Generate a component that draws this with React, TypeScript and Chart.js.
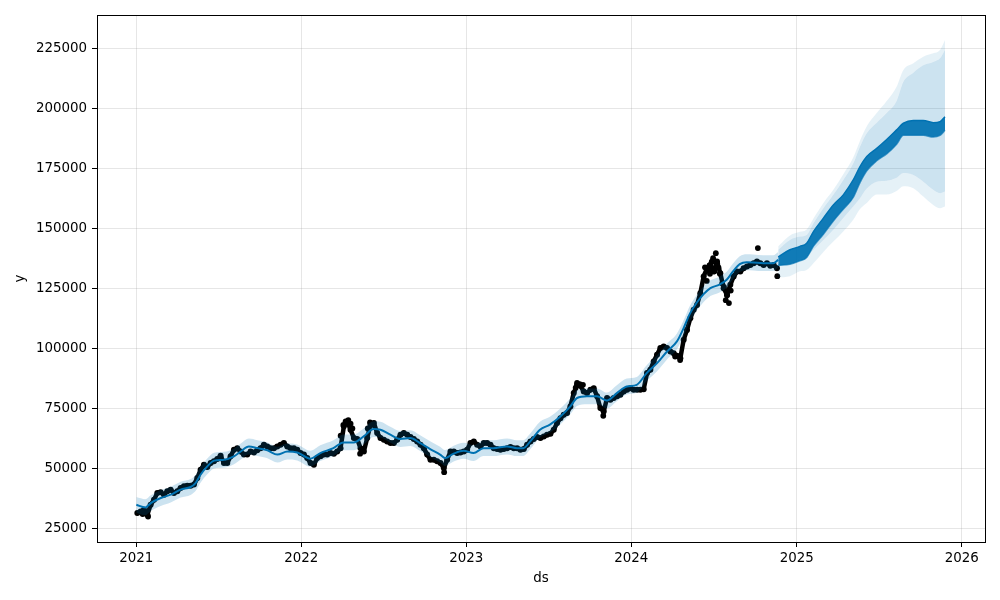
import React, { useEffect, useRef } from "react";
import { Chart, registerables } from "chart.js";

Chart.register(...registerables);

// ---- axes ----
const X_TICK_DAYS = [0, 365, 730, 1095, 1461, 1826]; // days since 2021-01-01
const X_TICK_LABELS = ["2021", "2022", "2023", "2024", "2025", "2026"];
const Y_TICKS = [25000, 50000, 75000, 100000, 125000, 150000, 175000, 200000, 225000];
const X_MIN = -87;
const X_MAX = 1877.5;
const Y_MIN = 19170;
const Y_MAX = 238880;

// ---- observed data points (sampled every OBS_STEP_DAYS) ----
const OBS_FIRST_DAY = 2.2;
const OBS_STEP_DAYS = 7.37;
const OBS_VALUES = [
  31250, 31900, 32600, 30500, 34700, 36800, 39600, 39900, 38900, 40300,
  41000, 39600, 40300, 41700, 42400, 42600, 42600, 43100, 45800, 49300,
  51400, 50400, 52100, 52800, 53750, 55100, 52100, 52100, 54900, 57600,
  58300, 56900, 55600, 55600, 56900, 56500, 57400, 58300, 59700, 59000,
  58300, 58300, 59000, 59700, 60400, 59000, 58300, 58300, 57600, 56250,
  55600, 54200, 52100, 51400, 54200, 54900, 55600, 55600, 56250, 56000,
  56900,
  58300, 67400, 69400, 66000, 62500, 62100, 58300, 56900, 62500, 68100,
  68750, 64600, 62500, 61800, 61100, 60400, 60400, 61800, 63900, 64600,
  63900, 62900, 62100, 61100, 59700, 58300, 55600, 53500, 53500, 52800,
  52100, 50000, 53500, 56900, 56900, 56250, 56500, 56900, 57600, 60400,
  61100, 59700, 59000, 60400, 60400, 59700, 58300, 57900, 57600, 57900,
  58300, 58750, 58300, 58300, 57600, 57900, 59700, 61100, 62100, 62900,
  62500, 63200, 63900, 64300, 66000, 68750, 70800, 72200, 72900, 75700,
  81250, 84700, 84300, 81900, 81250, 82600, 83300, 79900, 75000, 73600,
  79200, 78500, 79200, 79900, 80600, 81900, 82600, 83300, 82600, 82600,
  82600, 82900, 89600, 91000, 94400, 97200, 100000, 100700, 100000, 98600,
  97900, 96800, 95800, 103500, 107600, 112500, 116000, 118000, 122900, 129900,
  133300, 134700, 131900, 136100,
  131250, 125000, 122200, 126400, 129900, 131900, 131900, 133300, 134000, 134700,
  135400, 136100, 135400, 134700, 135400, 134300, 134700, 133300,
];
const OBS_EXTRA_DAYS = [
  14, 26, 452, 458, 463, 469, 474, 478, 495, 512, 517, 522, 681, 972, 975, 981, 988,
  1033, 1192, 1203, 1258, 1262, 1265, 1268, 1269, 1273, 1276, 1279, 1282, 1285, 1288,
  1291, 1296, 1300, 1304, 1307, 1311, 1315, 1375, 1418,
];
const OBS_EXTRA_VALUES = [
  30800, 29800, 63500, 68000, 69500, 70000, 68500, 66500, 56000, 66500, 69000, 68000, 48300, 83500, 85500, 85000, 84700,
  71800, 96500, 95000, 133700, 128000, 132500, 134500, 131000, 136000, 137500, 132000, 139600, 135400, 133500,
  131000, 127000, 125500, 120000, 122000, 118800, 124000, 141700, 130000,
];

// ---- fitted history ----
const HIST_DAYS = [
  0, 20, 32, 54, 76, 98, 120, 131, 142, 157,
  172, 194, 216, 231, 249, 268, 290, 312, 334, 356,
  385, 407, 436, 458, 481, 503, 525, 540, 562, 584,
  606, 628, 650, 672, 683, 702, 724, 746, 768, 790,
  820, 842, 856, 871, 893, 915, 938, 960, 975, 997,
  1019, 1041, 1063, 1085, 1107, 1129, 1152, 1174, 1196, 1210,
  1225, 1240, 1255, 1270, 1290, 1306, 1320, 1335, 1350, 1365,
  1387, 1409, 1420,
];
const HIST_YHAT = [
  34700, 33600, 35400, 37500, 38900, 41000, 42100, 43750, 47200, 50700,
  53100, 53500, 54900, 56900, 59000, 58300, 57400, 55600, 56900, 56500,
  53900, 56250, 58300, 60700, 60700, 63200, 66250, 66000, 63900, 62100,
  62500, 60400, 57900, 55600, 54200, 56000, 57200, 56250, 58300, 58300,
  59000, 58300, 58300, 61000, 66000, 68100, 71500, 75700, 79200, 79900,
  79900, 78200, 81250, 84000, 84700, 89600, 93750, 98600, 102800, 108000,
  114500, 119000, 122500, 125000, 126500, 128500, 132000, 135000, 135800, 135700,
  135400, 135400, 136800,
];
const HIST_UPPER = [
  37900, 37000, 38700, 40800, 42200, 44300, 45400, 47000, 50500, 54000,
  56400, 56800, 58200, 60200, 62300, 61600, 60700, 58900, 60200, 59800,
  57200, 59500, 61600, 64000, 64000, 66500, 69500, 69300, 67200, 65400,
  65800, 63700, 61200, 58900, 57500, 59300, 60500, 59500, 61600, 61600,
  62300, 61600, 61600, 64300, 69300, 71400, 74800, 79000, 82500, 83200,
  83200, 81500, 84500, 87300, 88000, 92900, 97000, 101900, 106100, 111300,
  117800, 122300, 125800, 128300, 129800, 131800, 135300, 138300, 139100, 139000,
  138700, 138700, 140100,
];
const HIST_LOWER = [
  31400, 30300, 32100, 34200, 35600, 37700, 38800, 40400, 43900, 47400,
  49800, 50200, 51600, 53600, 55700, 55000, 54100, 52300, 53600, 53200,
  50600, 52900, 55000, 57400, 57400, 59900, 62900, 62700, 60600, 58800,
  59200, 57100, 54600, 52300, 50900, 52700, 53900, 52900, 55000, 55000,
  55700, 55000, 55000, 57700, 62700, 64800, 68200, 72400, 75900, 76600,
  76600, 74900, 77900, 80700, 81400, 86300, 90400, 95300, 99500, 104700,
  111200, 115700, 119200, 121700, 123200, 125200, 128700, 131700, 132500, 132400,
  132100, 132100, 133500,
];

// ---- forecast ----
const FC_DAYS = [1420, 1446, 1468, 1483, 1498, 1520, 1542, 1564, 1586, 1601, 1616, 1638, 1660, 1682, 1697, 1719, 1741, 1763, 1778, 1789];
const FC_YHAT_HI = [138000, 141000, 142400, 143750, 148600, 154200, 159700, 163900, 170100, 175700, 179900, 183300, 187000, 191000, 193750, 194900, 194900, 194000, 194400, 196500];
const FC_YHAT_LO = [134500, 135000, 136400, 137800, 142500, 147500, 153000, 157900, 162800, 169000, 173900, 178100, 181000, 185000, 188700, 188700, 188700, 188000, 188700, 190800];
const FC_UPPER = [141000, 145100, 146500, 147200, 152100, 158300, 163900, 170100, 177000, 184000, 189600, 194000, 198000, 203000, 211000, 214800, 217900, 219300, 220800, 224300];
const FC_UPPER_SPIKE = [142500, 147000, 148500, 149500, 154000, 160500, 166000, 172500, 179500, 186500, 192500, 198000, 203000, 209000, 216000, 218750, 221500, 222900, 224300, 228500];
const FC_LOWER = [134000, 135400, 137500, 138200, 141000, 145100, 149300, 154200, 159000, 162500, 166500, 169400, 169800, 171000, 173000, 172200, 169400, 166000, 164600, 165300];
const FC_LOWER_SPIKE = [129500, 130000, 132000, 132600, 135400, 140100, 144400, 148600, 153500, 158000, 160500, 164000, 164000, 165500, 167500, 166700, 163200, 159700, 158300, 159000];

const FONT = { family: "'DejaVu Sans', sans-serif", size: 13.4 };
const GRID = "rgba(128,128,128,0.2)";

const pts = (xs: number[], ys: number[]) => xs.map((x, i) => ({ x, y: ys[i] }));

const framePlugin = {
  id: "frame",
  afterDatasetsDraw(chart: any) {
    const { ctx, chartArea: a } = chart;
    ctx.save();
    ctx.strokeStyle = "#000";
    ctx.lineWidth = 1;
    ctx.strokeRect(Math.round(a.left) + 0.5, Math.round(a.top) + 0.5, Math.round(a.right - a.left), Math.round(a.bottom - a.top));
    ctx.restore();
  },
};

export default function App() {
  const ref = useRef<HTMLCanvasElement>(null);

  useEffect(() => {
    const canvas = ref.current;
    if (!canvas) return;
    const blue = "#0072B2";
    const band = "rgba(0,114,178,0.2)";
    const fringe = "rgba(0,114,178,0.1)";
    const bandLine = (data: any[], fill: any, bg: string) => ({
      data,
      fill,
      backgroundColor: bg,
      borderColor: "rgba(0,0,0,0)",
      borderWidth: 0,
      pointRadius: 0,
      cubicInterpolationMode: "monotone",
      order: 0,
    });
    const obs = OBS_VALUES.map((v, i) => ({ x: OBS_FIRST_DAY + i * OBS_STEP_DAYS, y: v }));
    const extra = pts(OBS_EXTRA_DAYS, OBS_EXTRA_VALUES);

    const chart = new Chart(canvas, {
      type: "line",
      data: {
        datasets: [
          bandLine(pts(HIST_DAYS, HIST_UPPER), "+1", band),
          bandLine(pts(HIST_DAYS, HIST_LOWER), false, band),
          bandLine(pts(FC_DAYS, FC_UPPER_SPIKE), "+1", fringe),
          bandLine(pts(FC_DAYS, FC_UPPER), "+1", band),
          bandLine(pts(FC_DAYS, FC_LOWER), "+1", fringe),
          bandLine(pts(FC_DAYS, FC_LOWER_SPIKE), false, fringe),
          {
            data: pts(FC_DAYS, FC_YHAT_HI),
            fill: "+1",
            backgroundColor: "rgba(0,114,178,0.92)",
            borderColor: blue,
            borderWidth: 1.5,
            pointRadius: 0,
            cubicInterpolationMode: "monotone",
            order: 0,
          },
          {
            data: pts(FC_DAYS, FC_YHAT_LO),
            fill: false,
            borderColor: "rgba(0,114,178,0.7)",
            borderWidth: 1.5,
            pointRadius: 0,
            cubicInterpolationMode: "monotone",
            order: 0,
          },
          {
            data: pts(HIST_DAYS, HIST_YHAT),
            fill: false,
            borderColor: blue,
            borderWidth: 2,
            pointRadius: 0,
            cubicInterpolationMode: "monotone",
            order: 0,
          },
          {
            data: obs,
            showLine: true,
            fill: false,
            borderColor: "#000",
            borderWidth: 4.5,
            borderJoinStyle: "round",
            borderCapStyle: "round",
            tension: 0,
            pointRadius: 3,
            pointBackgroundColor: "#000",
            pointBorderWidth: 0,
            order: 1,
          },
          {
            data: extra,
            showLine: false,
            pointRadius: 2.9,
            pointBackgroundColor: "#000",
            pointBorderWidth: 0,
            order: 1,
          },
        ] as any,
      },
      options: {
        animation: false,
        responsive: false,
        devicePixelRatio: 1,
        events: [],
        layout: { padding: { top: 15, right: 15, left: 0, bottom: 0 } },
        plugins: {
          legend: { display: false },
          tooltip: { enabled: false },
        },
        scales: {
          x: {
            type: "linear",
            min: X_MIN,
            max: X_MAX,
            afterBuildTicks: (s: any) => {
              s.ticks = X_TICK_DAYS.map((v) => ({ value: v }));
            },
            afterFit: (s: any) => {
              s.height = 58;
            },
            ticks: {
              autoSkip: false,
              maxRotation: 0,
              color: "#000",
              font: FONT,
              padding: 3,
              callback: (v: any) => {
                const i = X_TICK_DAYS.indexOf(Number(v));
                return i >= 0 ? X_TICK_LABELS[i] : "";
              },
            },
            grid: { color: GRID, tickColor: "#000", tickLength: 5, lineWidth: 1 },
            border: { display: false },
            title: { display: true, text: "ds", color: "#000", font: FONT, padding: { top: 0, bottom: 13 } },
          },
          y: {
            type: "linear",
            min: Y_MIN,
            max: Y_MAX,
            afterBuildTicks: (s: any) => {
              s.ticks = Y_TICKS.map((v) => ({ value: v }));
            },
            afterFit: (s: any) => {
              s.width = 97;
            },
            ticks: {
              color: "#000",
              font: FONT,
              padding: 5,
              callback: (v: any) => String(v),
            },
            grid: { color: GRID, tickColor: "#000", tickLength: 5, lineWidth: 1 },
            border: { display: false },
            title: { display: true, text: "y", color: "#000", font: FONT, padding: { top: 12, bottom: 0 } },
          },
        },
      } as any,
      plugins: [framePlugin],
    });
    return () => chart.destroy();
  }, []);

  return (
    <div style={{ position: "absolute", left: 0, top: 0, width: 1000, height: 600, background: "#fff" }}>
      <canvas ref={ref} width={1000} height={600} style={{ display: "block" }} />
    </div>
  );
}
